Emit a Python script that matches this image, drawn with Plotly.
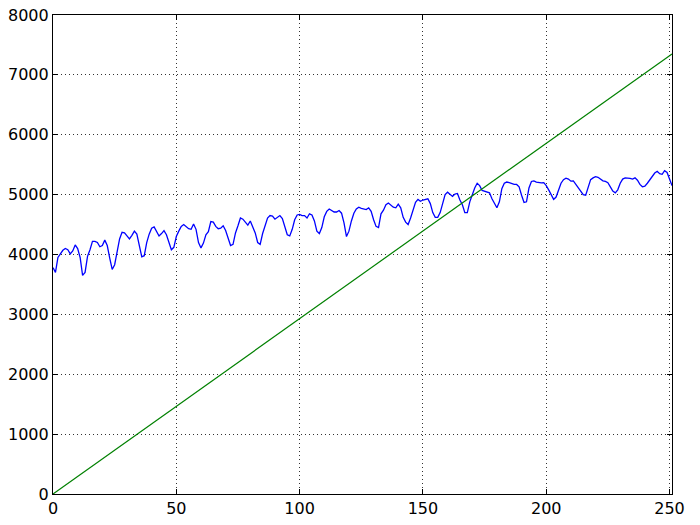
import plotly.graph_objects as go

blue_values = [
    3780, 3700, 3950, 4020, 4070, 4100, 4080, 4010, 4060, 4160,
    4100, 3950, 3650, 3700, 3970, 4080, 4220, 4220, 4200, 4130,
    4150, 4240, 4150, 3940, 3750, 3830, 4060, 4260, 4370, 4360,
    4310, 4260, 4320, 4390, 4340, 4150, 3960, 3980, 4200, 4340,
    4440, 4460, 4370, 4310, 4350, 4400, 4330, 4190, 4080, 4120,
    4300, 4390, 4470, 4500, 4470, 4430, 4420, 4510, 4420, 4200,
    4110, 4190, 4330, 4380, 4550, 4540, 4470, 4430, 4440, 4480,
    4400, 4260, 4150, 4170, 4360, 4480, 4610, 4590, 4540, 4490,
    4560, 4460, 4360, 4200, 4170, 4350, 4500, 4610, 4650, 4640,
    4590, 4620, 4650, 4600, 4470, 4330, 4310, 4420, 4580, 4660,
    4670, 4650, 4650, 4610, 4680, 4660, 4560, 4390, 4350, 4450,
    4630, 4720, 4760, 4740, 4710, 4710, 4735, 4690, 4530, 4300,
    4390, 4560, 4690, 4760, 4790, 4770, 4760, 4750, 4780, 4720,
    4580, 4470, 4450, 4680, 4740, 4830, 4860, 4830, 4790, 4780,
    4840, 4780, 4620, 4540, 4500, 4610, 4760, 4870, 4920, 4890,
    4910, 4920, 4930, 4850, 4700, 4620, 4620, 4700, 4870, 5000,
    5040, 5010, 4970, 5010, 5020, 4910, 4830, 4700, 4700, 4880,
    5010, 5110, 5190, 5150, 5070, 5056, 5050, 5030, 4930, 4840,
    4780, 4880, 5100, 5190, 5210, 5200, 5180, 5170, 5170, 5130,
    4990, 4870, 4880, 5110, 5220, 5230, 5210, 5200, 5195, 5200,
    5150, 5080, 5000, 4920, 4960, 5060, 5190, 5250, 5275, 5260,
    5225, 5230, 5170, 5120, 5040, 5000, 4990, 5130, 5250, 5280,
    5300, 5290, 5260, 5230, 5220, 5200, 5130, 5060, 5030, 5080,
    5190, 5260, 5280, 5280, 5270, 5260, 5280, 5240, 5170, 5130,
    5140, 5190, 5250, 5320, 5360, 5390, 5350, 5340, 5400, 5370,
    5250, 5150,
]
blue_x = list(range(len(blue_values)))

green_x = [0, 251]
green_y = [0, 7350]

x_ticks = [0, 50, 100, 150, 200, 250]
y_ticks = [0, 1000, 2000, 3000, 4000, 5000, 6000, 7000, 8000]

fig = go.Figure()
fig.add_trace(go.Scatter(x=blue_x, y=blue_values, mode="lines",
                         line=dict(color="#0000ff", width=1.3), showlegend=False))
fig.add_trace(go.Scatter(x=green_x, y=green_y, mode="lines",
                         line=dict(color="#008000", width=1.2), showlegend=False))

axis_common = dict(
    showline=True, linecolor="black", linewidth=1.2, mirror="ticks",
    ticks="inside", ticklen=5, tickcolor="black", tickwidth=1,
    showgrid=True, gridcolor="#333333", griddash="1px,3px", gridwidth=1,
    zeroline=False, automargin=False,
    tickfont=dict(family="DejaVu Sans", size=16, color="black"),
)

fig.update_xaxes(range=[0, 251], tickvals=x_ticks, ticktext=[str(v) for v in x_ticks], **axis_common)
fig.update_yaxes(range=[0, 8000], tickvals=y_ticks, ticktext=[str(v) for v in y_ticks], **axis_common)

fig.update_layout(
    width=700, height=525,
    margin=dict(l=53, r=28, t=15, b=31),
    paper_bgcolor="white", plot_bgcolor="white",
)

fig.write_html("out.html", config={"displayModeBar": False},
               post_script="document.body.style.margin='0';document.body.style.overflow='hidden';")
